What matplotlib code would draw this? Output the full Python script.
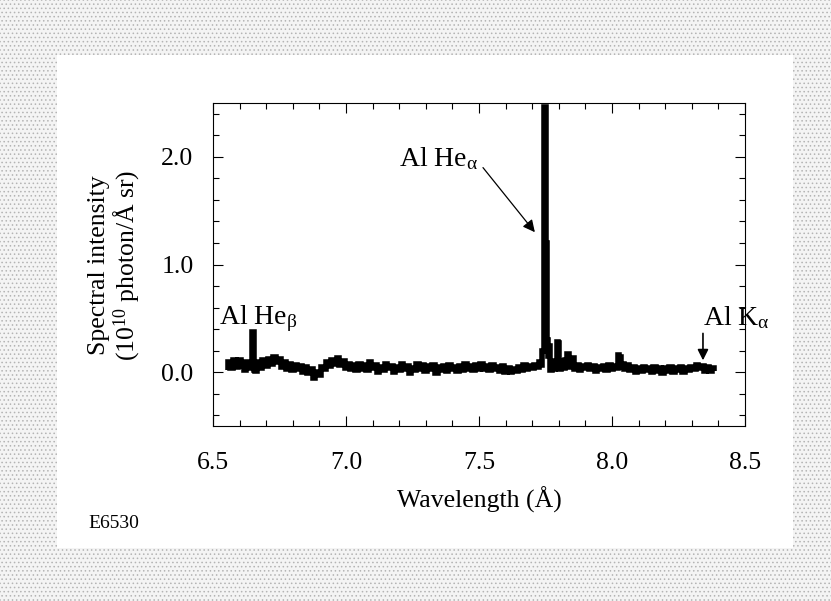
import matplotlib
matplotlib.use("Agg")
import matplotlib.pyplot as plt
from matplotlib.patches import Rectangle
from matplotlib.ticker import MultipleLocator, FormatStrFormatter

plt.rcParams['font.family'] = ['Liberation Serif', 'DejaVu Serif']
plt.rcParams['mathtext.fontset'] = 'custom'
plt.rcParams['mathtext.rm'] = 'Liberation Serif'
plt.rcParams['mathtext.it'] = 'Liberation Serif:italic'
plt.rcParams['hatch.linewidth'] = 0.6

# ---- data (wavelength in Angstrom, intensity in 1e10 photon/(A sr)) ----
wavelength = [
    6.555, 6.56, 6.57, 6.58, 6.59, 6.60, 6.61, 6.62, 6.63, 6.64, 6.645, 6.648, 6.652, 6.656,
    6.66, 6.67, 6.68, 6.69, 6.70, 6.71, 6.72, 6.73, 6.74, 6.75, 6.76, 6.77, 6.78, 6.79,
    6.80, 6.81, 6.82, 6.83, 6.84, 6.85, 6.86, 6.87, 6.88, 6.89, 6.90, 6.91, 6.92, 6.93,
    6.94, 6.95, 6.96, 6.97, 6.98, 6.99, 7.00, 7.01, 7.02, 7.03, 7.04, 7.05, 7.06, 7.07,
    7.08, 7.09, 7.10, 7.11, 7.12, 7.13, 7.14, 7.15, 7.16, 7.17, 7.18, 7.19, 7.20, 7.21,
    7.22, 7.23, 7.24, 7.25, 7.26, 7.27, 7.28, 7.29, 7.30, 7.31, 7.32, 7.33, 7.34, 7.35,
    7.36, 7.37, 7.38, 7.39, 7.40, 7.41, 7.42, 7.43, 7.44, 7.45, 7.46, 7.47, 7.48, 7.49,
    7.50, 7.51, 7.52, 7.53, 7.54, 7.55, 7.56, 7.57, 7.58, 7.59, 7.60, 7.61, 7.62, 7.63,
    7.64, 7.65, 7.66, 7.67, 7.68, 7.69, 7.70, 7.71, 7.72, 7.73, 7.735, 7.74, 7.745, 7.749,
    7.752, 7.756, 7.76, 7.765, 7.77, 7.78, 7.785, 7.79, 7.795, 7.80, 7.805, 7.81, 7.82, 7.83,
    7.835, 7.84, 7.85, 7.855, 7.86, 7.87, 7.88, 7.89, 7.90, 7.91, 7.92, 7.93, 7.94, 7.95,
    7.96, 7.97, 7.98, 7.99, 8.00, 8.01, 8.02, 8.025, 8.03, 8.035, 8.04, 8.05, 8.06, 8.07,
    8.08, 8.09, 8.10, 8.11, 8.12, 8.13, 8.14, 8.15, 8.16, 8.17, 8.18, 8.19, 8.20, 8.21,
    8.22, 8.23, 8.24, 8.25, 8.26, 8.27, 8.28, 8.29, 8.30, 8.31, 8.32, 8.33, 8.34, 8.35,
    8.36, 8.37, 8.38, 8.385,
]
intensity = [
    0.02, 0.09, 0.04, 0.11, 0.05, 0.11, 0.06, 0.02, 0.09, 0.04, 0.06, 0.37, 0.37, 0.02,
    0.01, 0.09, 0.04, 0.11, 0.06, 0.12, 0.08, 0.14, 0.09, 0.12, 0.05, 0.09, 0.03, 0.08,
    0.02, 0.07, 0.03, 0.06, 0.00, 0.05, -0.01, 0.03, -0.05, 0.00, -0.03, 0.05, 0.03, 0.09,
    0.06, 0.11, 0.08, 0.13, 0.07, 0.10, 0.04, 0.08, 0.03, 0.07, 0.02, 0.08, 0.03, 0.07,
    0.02, 0.09, 0.04, 0.07, 0.00, 0.05, 0.02, 0.08, 0.04, 0.06, 0.00, 0.05, 0.02, 0.08,
    0.03, 0.06, -0.01, 0.04, 0.02, 0.08, 0.03, 0.07, 0.01, 0.06, 0.03, 0.07, -0.01, 0.05,
    0.02, 0.06, 0.01, 0.07, 0.03, 0.05, 0.01, 0.06, 0.02, 0.08, 0.03, 0.06, 0.02, 0.07,
    0.03, 0.08, 0.03, 0.06, 0.02, 0.07, 0.03, 0.05, 0.01, 0.06, 0.00, 0.04, 0.00, 0.03,
    0.01, 0.05, 0.02, 0.07, 0.03, 0.06, 0.04, 0.07, 0.05, 0.09, 0.07, 0.20, 2.46, 2.46,
    1.20, 0.30, 0.15, 0.24, 0.02, 0.10, 0.03, 0.08, 0.28, 0.27, 0.03, 0.10, 0.04, 0.11,
    0.17, 0.05, 0.09, 0.13, 0.03, 0.07, 0.02, 0.06, 0.04, 0.07, 0.03, 0.06, 0.01, 0.05,
    0.03, 0.06, 0.02, 0.07, 0.03, 0.06, 0.04, 0.16, 0.14, 0.05, 0.08, 0.03, 0.07, 0.02,
    0.05, 0.00, 0.04, 0.01, 0.05, 0.02, 0.04, 0.00, 0.05, 0.01, 0.04, -0.01, 0.04, 0.01,
    0.05, 0.00, 0.04, 0.02, 0.05, 0.00, 0.04, 0.02, 0.05, 0.03, 0.07, 0.04, 0.06, 0.01,
    0.05, 0.01, 0.04, 0.01,
]

x_ticks = [6.5, 7.0, 7.5, 8.0, 8.5]
y_ticks = [0.0, 1.0, 2.0]

W, H = 831, 601
fig = plt.figure(figsize=(W / 100, H / 100), dpi=100)
fig.patch.set_facecolor('white')

# halftone-like grey border of the scanned page
border = Rectangle((0, 0), 1, 1, transform=fig.transFigure, facecolor='#f4f4f4',
                   edgecolor='#b4b4b4', hatch='....', linewidth=0, zorder=-10)
fig.patches.append(border)
inner = Rectangle((57 / W, 1 - 548 / H), (793 - 57) / W, (548 - 55) / H,
                  transform=fig.transFigure, facecolor='white', edgecolor='none', zorder=-9)
fig.patches.append(inner)

ax = fig.add_axes([213 / W, 1 - 426 / H, (745 - 213) / W, (426 - 103) / H])
ax.set_facecolor('white')
ax.plot(wavelength, intensity, color='black', linewidth=4.0, drawstyle='steps-mid',
        solid_joinstyle='miter', solid_capstyle='butt')

ax.set_xlim(6.5, 8.5)
ax.set_ylim(-0.5, 2.5)
ax.set_xticks(x_ticks)
ax.set_yticks(y_ticks)
ax.xaxis.set_minor_locator(MultipleLocator(0.1))
ax.yaxis.set_minor_locator(MultipleLocator(0.2))
ax.xaxis.set_major_formatter(FormatStrFormatter('%.1f'))
ax.yaxis.set_major_formatter(FormatStrFormatter('%.1f'))
ax.tick_params(which='both', direction='in', top=True, right=True, labelsize=18.5, width=0.8)
ax.tick_params(which='major', length=7)
ax.tick_params(axis='x', which='major', pad=19)
ax.tick_params(axis='y', which='major', pad=14)
ax.tick_params(which='minor', length=4)
for s in ax.spines.values():
    s.set_linewidth(0.8)

ax.set_xlabel('Wavelength (Å)', fontsize=18.5, labelpad=9)

fig.text(99 / W, 1 - 265 / H, 'Spectral intensity', rotation=90, fontsize=18.5,
         ha='center', va='center')
fig.text(127 / W, 1 - 265 / H, '(10$^{10}$ photon/Å sr)', rotation=90, fontsize=18.5,
         ha='center', va='center')

ann_fs = 20
ax.text(6.522, 0.50, r'Al He$_{\mathregular{β}}$', fontsize=ann_fs, ha='left', va='center')
ax.text(7.498, 1.98, r'Al He$_{\mathregular{α}}$', fontsize=ann_fs, ha='right', va='center')
ax.annotate('', xy=(7.71, 1.30), xytext=(7.515, 1.90),
            arrowprops=dict(arrowstyle='-|>', color='black', lw=0.9,
                            mutation_scale=18, shrinkA=0, shrinkB=0))
ax.text(8.466, 0.51, r'Al K$_{\mathregular{α}}$', fontsize=ann_fs, ha='center', va='center',
        clip_on=False)
ax.annotate('', xy=(8.342, 0.11), xytext=(8.342, 0.36),
            arrowprops=dict(arrowstyle='-|>', color='black', lw=1.2,
                            mutation_scale=16, shrinkA=0, shrinkB=0))

fig.text(88 / W, 1 - 524 / H, 'E6530', fontsize=14, ha='left', va='center')

fig.savefig('out.png', dpi=100)
